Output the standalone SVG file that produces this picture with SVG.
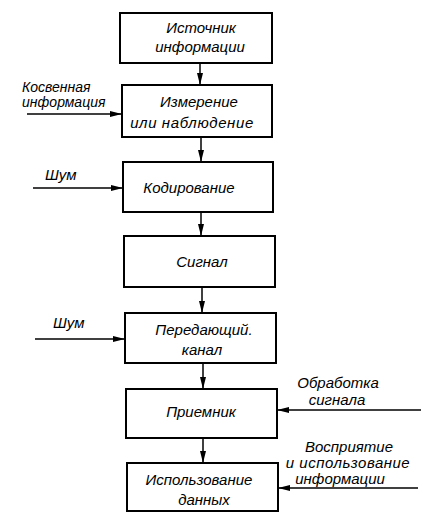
<svg xmlns="http://www.w3.org/2000/svg" width="421" height="512" viewBox="0 0 421 512">
<style>
.box{fill:#fff;stroke:#000;stroke-width:2}
.ln{stroke:#000;stroke-width:1.5;fill:none}
text{font-family:"Liberation Sans","DejaVu Sans",sans-serif;font-style:italic;font-size:15px;fill:#000}
.c{text-anchor:middle}
.s{font-size:14px}
</style>
<defs>
<marker id="ah" viewBox="0 0 12 6" refX="12" refY="3" markerWidth="12" markerHeight="6" markerUnits="userSpaceOnUse" orient="auto">
<path d="M0,0 L12,3 L0,6 Z" fill="#000"/>
</marker>
</defs>
<rect width="421" height="512" fill="#fff"/>
<g id="connectors">
<line class="ln" x1="200" y1="63" x2="200" y2="85" marker-end="url(#ah)"/>
<line class="ln" x1="201" y1="137" x2="201" y2="162" marker-end="url(#ah)"/>
<line class="ln" x1="201" y1="212" x2="201" y2="236" marker-end="url(#ah)"/>
<line class="ln" x1="202" y1="287" x2="202" y2="313" marker-end="url(#ah)"/>
<line class="ln" x1="203" y1="363" x2="203" y2="389" marker-end="url(#ah)"/>
<line class="ln" x1="203" y1="438" x2="203" y2="463" marker-end="url(#ah)"/>
<line class="ln" x1="27" y1="114" x2="122" y2="114" marker-end="url(#ah)"/>
<line class="ln" x1="33" y1="188" x2="123" y2="188" marker-end="url(#ah)"/>
<line class="ln" x1="35" y1="339" x2="125" y2="339" marker-end="url(#ah)"/>
<line class="ln" x1="421" y1="410" x2="277" y2="410" marker-end="url(#ah)"/>
<line class="ln" x1="418" y1="488" x2="278" y2="488" marker-end="url(#ah)"/>
</g>
<g id="n1"><rect class="box" x="120" y="13" width="152" height="50"/>
<text class="c" x="201" y="33">Источник</text><text class="c" x="200" y="52">информации</text></g>
<g id="n2"><rect class="box" x="122" y="85" width="150" height="52"/>
<text class="c" x="199" y="107">Измерение</text><text class="c" x="192" y="128" letter-spacing="0.6">или  наблюдение</text></g>
<g id="n3"><rect class="box" x="123" y="162" width="150" height="50"/>
<text class="c" x="189" y="193">Кодирование</text></g>
<g id="n4"><rect class="box" x="124" y="236" width="151" height="51"/>
<text class="c" x="202" y="267">Сигнал</text></g>
<g id="n5"><rect class="box" x="125" y="313" width="151" height="50"/>
<text class="c" x="204" y="335">Передающий.</text><text class="c" x="202" y="355">канал</text></g>
<g id="n6"><rect class="box" x="126" y="389" width="151" height="49"/>
<text class="c" x="201" y="417">Приемник</text></g>
<g id="n7"><rect class="box" x="127" y="463" width="151" height="48"/>
<text class="c" x="199" y="485">Использование</text><text class="c" x="204" y="505">данных</text></g>
<g id="labels">
<text class="s" x="22" y="92">Косвенная</text>
<text class="s" x="22" y="107">информация</text>
<text x="45" y="180">Шум</text>
<text x="53" y="328">Шум</text>
<text class="c" x="338" y="388">Обработка</text>
<text class="c" x="337" y="405">сигнала</text>
<text class="c" x="349" y="452">Восприятие</text>
<text class="c" x="348" y="468" letter-spacing="0.5">и использование</text>
<text class="c" x="340" y="484">информации</text>
</g>
</svg>
